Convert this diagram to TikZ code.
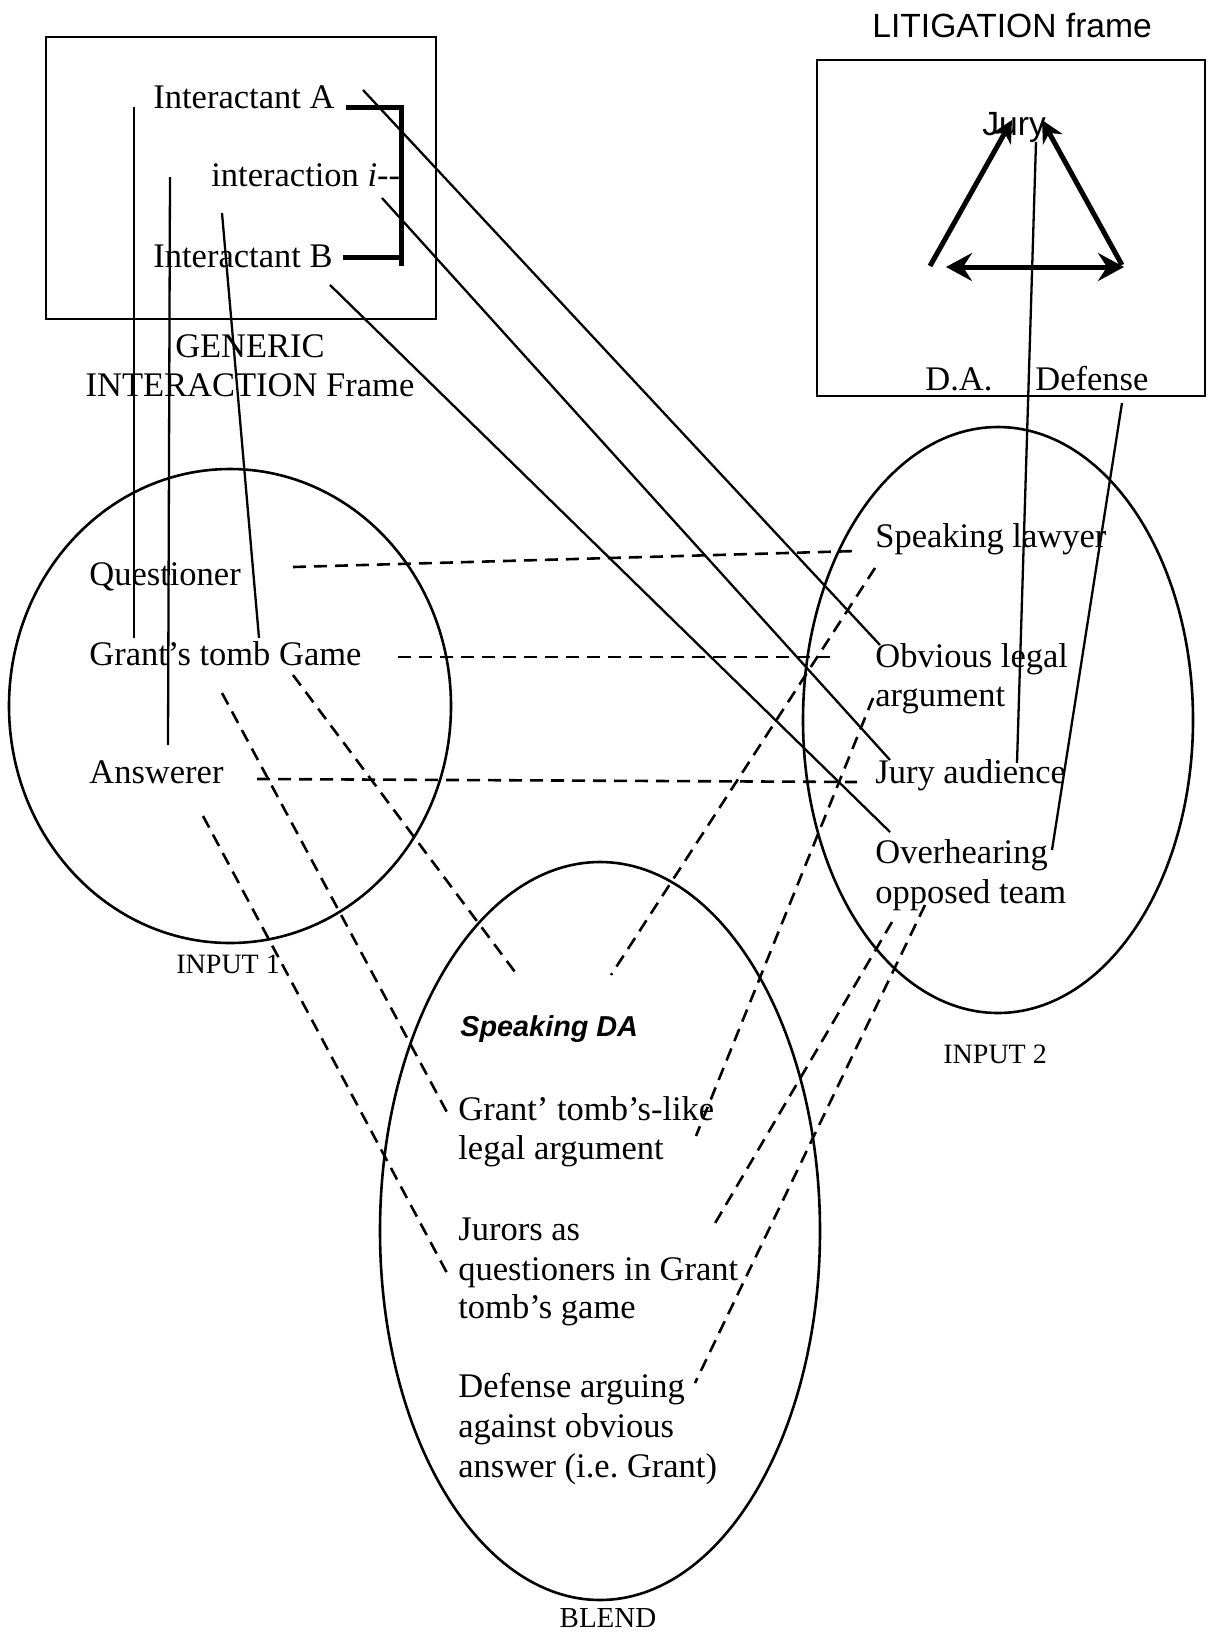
\documentclass[tikz,border=0pt]{standalone}
\usepackage{fontspec}
\setmainfont{Liberation Serif}
\setsansfont{Liberation Sans}
\usetikzlibrary{shapes.geometric,arrows.meta}
\begin{document}
\begin{tikzpicture}[x=0.5pt,y=-0.5pt,
  txt/.style={anchor=base west, inner sep=0pt, font=\fontsize{17.25}{20}\selectfont},
  ctxt/.style={txt, anchor=base},
  lbl/.style={anchor=base west, inner sep=0pt, font=\fontsize{14}{16}\selectfont},
  sanstxt/.style={anchor=base west, inner sep=0pt, font=\sffamily\fontsize{16.8}{20}\selectfont},
  frame/.style={draw, rectangle, line width=1pt, inner sep=0pt, outer sep=0pt},
  space/.style={draw, ellipse, line width=1.3pt, inner sep=0pt, outer sep=0pt},
  link/.style={line width=1.15pt},
  cpd/.style={line width=1.3pt, dash pattern=on 6.5pt off 4pt},
  heavy/.style={line width=2.5pt},
  uptip/.style={-{Stealth[length=11pt,width=11pt,inset=3.5pt]}}
]
\useasboundingbox (0,0) rectangle (1208,1644);
\fill[white] (0,0) rectangle (1208,1644);

% ---- frames and mental spaces ----
\node[frame, minimum width=195pt, minimum height=141pt] (generic) at (241,178) {};
\node[frame, minimum width=194pt, minimum height=168pt] (litig) at (1011,228) {};
\node[space, minimum width=221pt, minimum height=237pt] (input1) at (230,706) {};
\node[space, minimum width=195pt, minimum height=293pt] (input2) at (998,720) {};
\node[space, minimum width=220pt, minimum height=369pt] (blend) at (600,1231) {};

% ---- generic interaction frame ----
\node[txt] (intA) at (153,108) {Interactant A};
\node[txt] (inter) at (211,186) {interaction \textit{i}-{}-};
\node[txt] (intB) at (153,267) {Interactant B};
\node[ctxt] (gen1) at (250,357) {GENERIC};
\node[ctxt] (gen2) at (250,396) {INTERACTION Frame};

\coordinate (bk1) at (346,107);
\coordinate (bk2) at (401,107);
\coordinate (bk3) at (401,266);
\coordinate (bk4) at (343,257);
\coordinate (bk5) at (401,257);
\draw[heavy] (bk1) -- (bk2) -- (bk3);
\draw[heavy] (bk4) -- (bk5);

% ---- litigation frame ----
\node[sanstxt] (littitle) at (872,37) {LITIGATION frame};
\node[sanstxt] (jury) at (982,135) {Jury};
\node[txt] (da) at (925,390) {D.A.};
\node[txt] (defense) at (1035,390) {Defense};

\coordinate (tl) at (930,266);
\coordinate (tt1) at (1012,120);
\coordinate (tr) at (1122,265);
\coordinate (tt2) at (1042,120);
\coordinate (hl) at (946,267);
\coordinate (hr) at (1124,267);
\draw[heavy, uptip] (tl) -- (tt1);
\draw[heavy, uptip] (tr) -- (tt2);
\draw[heavy, {Stealth[length=13pt,width=14pt,inset=4.5pt]}-{Stealth[length=13pt,width=14pt,inset=4.5pt]}] (hl) -- (hr);

% ---- input 1 ----
\node[txt] (quest) at (89,585) {Questioner};
\node[txt] (game) at (89,665) {Grant's tomb Game};
\node[txt] (answ) at (89,783) {Answerer};
\node[lbl] (in1lbl) at (176,973) {INPUT 1};

% ---- input 2 ----
\node[txt] (lawyer) at (875,547) {Speaking lawyer};
\node[txt] (obv1) at (875,667) {Obvious legal};
\node[txt] (obv2) at (875,706) {argument};
\node[txt] (juryaud) at (875,783) {Jury audience};
\node[txt] (over1) at (875,863) {Overhearing};
\node[txt] (over2) at (875,903) {opposed team};
\node[lbl] (in2lbl) at (943,1063) {INPUT 2};

% ---- blend ----
\node[anchor=base west, inner sep=0pt, font=\sffamily\bfseries\itshape\fontsize{14.4}{17}\selectfont] (sda) at (460,1036) {Speaking DA};
\node[txt] (b1) at (458,1120) {Grant' tomb's-like};
\node[txt] (b2) at (458,1159) {legal argument};
\node[txt] (b3) at (458,1240) {Jurors as};
\node[txt] (b4) at (458,1280) {questioners in Grant};
\node[txt] (b5) at (458,1318) {tomb's game};
\node[txt] (b6) at (458,1397) {Defense arguing};
\node[txt] (b7) at (458,1437) {against obvious};
\node[txt] (b8) at (458,1477) {answer (i.e.\ Grant)};
\node[anchor=base, inner sep=0pt, font=\fontsize{14.5}{17}\selectfont] (blendlbl) at (608,1627) {BLEND};

% ---- frame-to-space links (solid) ----
\coordinate (s1a) at (134,107);  \coordinate (s1b) at (134,638);
\coordinate (s2a) at (170,177);  \coordinate (s2b) at (168,745);
\coordinate (s3a) at (222,213);  \coordinate (s3b) at (259,638);
\coordinate (s4a) at (363,90);   \coordinate (s4b) at (880,645);
\coordinate (s5a) at (382,198);  \coordinate (s5b) at (890,760);
\coordinate (s6a) at (330,285);  \coordinate (s6b) at (890,832);
\coordinate (s7a) at (1036,142); \coordinate (s7b) at (1017,763);
\coordinate (s8a) at (1122,403); \coordinate (s8b) at (1052,850);
\draw[link] (s1a) -- (s1b);
\draw[link] (s2a) -- (s2b);
\draw[link] (s3a) -- (s3b);
\draw[link] (s4a) -- (s4b);
\draw[link] (s5a) -- (s5b);
\draw[link] (s6a) -- (s6b);
\draw[link] (s7a) -- (s7b);
\draw[link] (s8a) -- (s8b);

% ---- cross-space and projection links (dashed) ----
\coordinate (d1a) at (293,567);  \coordinate (d1b) at (857,551);
\coordinate (d2a) at (398,657);  \coordinate (d2b) at (830,657);
\coordinate (d3a) at (257,779);  \coordinate (d3b) at (857,782);
\coordinate (d4a) at (293,675);  \coordinate (d4b) at (515,972);
\coordinate (d5a) at (222,693);  \coordinate (d5b) at (449,1116);
\coordinate (d6a) at (203,816);  \coordinate (d6b) at (447,1273);
\coordinate (d7a) at (875,568);  \coordinate (d7b) at (611,975);
\coordinate (d8a) at (873,698);  \coordinate (d8b) at (696,1136);
\coordinate (d9a) at (892,922);  \coordinate (d9b) at (714,1225);
\coordinate (d10a) at (925,905); \coordinate (d10b) at (695,1383);
\draw[cpd] (d1a) -- (d1b);
\draw[cpd] (d2a) -- (d2b);
\draw[cpd] (d3a) -- (d3b);
\draw[cpd] (d4a) -- (d4b);
\draw[cpd] (d5a) -- (d5b);
\draw[cpd] (d6a) -- (d6b);
\draw[cpd] (d7a) -- (d7b);
\draw[cpd] (d8a) -- (d8b);
\draw[cpd] (d9a) -- (d9b);
\draw[cpd] (d10a) -- (d10b);
\end{tikzpicture}
\end{document}
